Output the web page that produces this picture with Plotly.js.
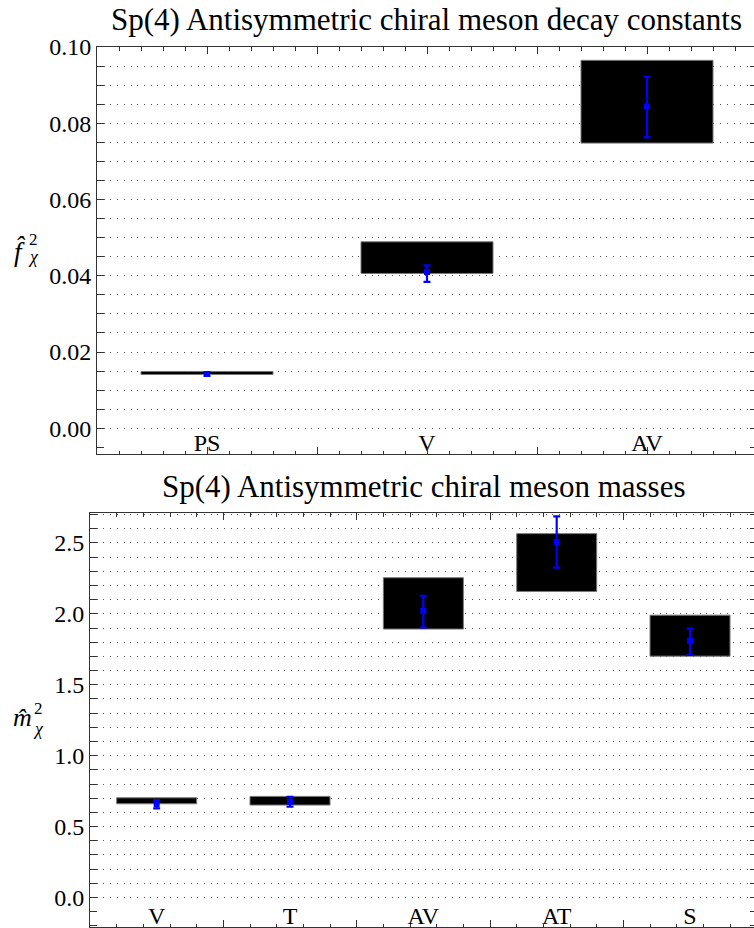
<!DOCTYPE html>
<html>
<head>
<meta charset="utf-8">
<script src="https://cdn.plot.ly/plotly-3.0.1.min.js"></script>
<style>
html,body{margin:0;padding:0;overflow:hidden;background:#fff;}
#chart{width:760px;height:928px;}
</style>
</head>
<body>
<div id="chart"></div>
<script>
// ---- Decay constants (top panel) ----
const fCats = ['PS', 'V', 'AV'];
const fPos = [1, 2, 3];
const fBandLo = [0.0141, 0.0406, 0.0748];
const fBandHi = [0.0149, 0.0489, 0.0965];
const fVal = [0.0142, 0.0410, 0.0844];
const fErrLo = [0.0137, 0.0384, 0.0763];
const fErrHi = [0.0147, 0.0427, 0.0922];

// ---- Masses (bottom panel) ----
const mCats = ['V', 'T', 'AV', 'AT', 'S'];
const mPos = [1, 2, 3, 4, 5];
const mBandLo = [0.661, 0.652, 1.893, 2.158, 1.702];
const mBandHi = [0.703, 0.713, 2.255, 2.566, 1.991];
const mVal = [0.658, 0.675, 2.020, 2.507, 1.808];
const mErrLo = [0.629, 0.640, 1.904, 2.326, 1.711];
const mErrHi = [0.687, 0.710, 2.128, 2.688, 1.897];

const FONT = 'Liberation Serif';
const FRAME = '#333333';
const GRID = '#555555';
const BLUE = '#0000ff';

function bandTrace(pos, lo, hi, xa, ya) {
  return {
    type: 'bar', x: pos, base: lo, y: hi.map((h, i) => h - lo[i]),
    width: 0.6, xaxis: xa, yaxis: ya,
    marker: {color: '#000000', line: {color: '#777777', width: 1}},
    hoverinfo: 'skip', showlegend: false
  };
}
function errTrace(pos, val, lo, hi, xa, ya) {
  return {
    type: 'scatter', mode: 'markers', x: pos, y: val, xaxis: xa, yaxis: ya,
    marker: {symbol: 'square', size: 6, color: BLUE},
    error_y: {type: 'data', symmetric: false,
      array: hi.map((h, i) => h - val[i]),
      arrayminus: val.map((v, i) => v - lo[i]),
      color: BLUE, thickness: 2.2, width: 3.5},
    showlegend: false
  };
}
function emptyTrace(xa, ya) {
  return {type: 'scatter', mode: 'markers', x: [], y: [], xaxis: xa, yaxis: ya,
    showlegend: false, hoverinfo: 'skip'};
}

const data = [
  bandTrace(fPos, fBandLo, fBandHi, 'x', 'y'),
  errTrace(fPos, fVal, fErrLo, fErrHi, 'x', 'y'),
  emptyTrace('x3', 'y'),
  bandTrace(mPos, mBandLo, mBandHi, 'x2', 'y2'),
  errTrace(mPos, mVal, mErrLo, mErrHi, 'x2', 'y2'),
  emptyTrace('x4', 'y2')
];

const W = 760, H = 928;
const tickFont = {family: FONT, size: 24, color: '#000'};

function labelAxis(domain, range, pos, cats, anchor) {
  return {
    domain: domain, range: range, anchor: anchor,
    tickmode: 'array', tickvals: pos, ticktext: cats,
    ticks: '', ticklabelposition: 'inside', tickfont: tickFont,
    showgrid: false, zeroline: false,
    showline: true, linecolor: FRAME, linewidth: 1, mirror: true,
    fixedrange: true
  };
}
function tickAxis(domain, range, tick0, dtick, mdtick, anchor, overlay) {
  return {
    domain: domain, range: range, anchor: anchor, overlaying: overlay,
    tickmode: 'linear', tick0: tick0, dtick: dtick,
    ticks: 'inside', ticklen: 7, tickcolor: FRAME, tickwidth: 1,
    showticklabels: false, showgrid: false, zeroline: false,
    showline: false, mirror: 'allticks',
    minor: {tickmode: 'linear', tick0: tick0, dtick: mdtick, ticks: 'inside', ticklen: 3.5, tickcolor: FRAME, showgrid: false},
    fixedrange: true
  };
}
function valueAxis(domain, range, dtick, mdtick, anchor, fmt, standoff) {
  return {
    domain: domain, range: range, anchor: anchor,
    tickmode: 'linear', tick0: 0, dtick: dtick, tickformat: fmt,
    ticks: 'inside', ticklen: 7, tickcolor: FRAME, tickwidth: 1,
    tickfont: tickFont, ticklabelstandoff: standoff,
    showgrid: true, gridcolor: GRID, gridwidth: 1, griddash: '1px,5.7px',
    zeroline: false, showline: true, linecolor: FRAME, linewidth: 1, mirror: 'allticks',
    minor: {tickmode: 'linear', tick0: 0, dtick: mdtick, ticks: 'inside', ticklen: 3.5, tickcolor: FRAME,
      showgrid: true, gridcolor: GRID, gridwidth: 1, griddash: '1px,5.7px'},
    fixedrange: true
  };
}

const topDom = [0.5373, 1.0];
const botDom = [0.0, 0.4699];
const topX = [97 / 757, 1.0];
const botX = [90 / 757, 756.7 / 757];
const fRange = [0.5, 3.5];
const mRange = [0.5, 5.5];

function px(x) { return x / 757; }
function py(y) { return (926.7 - y) / 879.7; }
function note(text, x, y, size, anchor) {
  return {text: text, xref: 'paper', yref: 'paper', x: px(x), y: py(y),
    xanchor: anchor || 'left', yanchor: 'middle', showarrow: false,
    font: {family: FONT, size: size, color: '#000'}};
}

const layout = {
  width: W, height: H,
  margin: {l: 0, r: 3, t: 47, b: 1.3},
  paper_bgcolor: '#fff', plot_bgcolor: '#fff',
  barmode: 'overlay',
  font: {family: FONT, color: '#000'},
  xaxis: labelAxis(topX, fRange, fPos, fCats, 'y'),
  xaxis3: tickAxis(topX, fRange, 0.5, 0.5, 0.1, 'y', 'x'),
  yaxis: valueAxis(topDom, [-0.0068, 0.1], 0.02, 0.005, 'x', '.2f', 0),
  xaxis2: labelAxis(botX, mRange, mPos, mCats, 'y2'),
  xaxis4: tickAxis(botX, mRange, 0.5, 1, 0.2, 'y2', 'x2'),
  yaxis2: valueAxis(botDom, [-0.208, 2.708], 0.5, 0.1, 'x2', '.1f', 0),
  annotations: [
    note('Sp(4) Antisymmetric chiral meson decay constants', 426.5, 20, 31, 'center'),
    note('Sp(4) Antisymmetric chiral meson masses', 423, 486, 31, 'center'),
    note('<i>f\u0302</i>', 12, 251, 27),
    note('<i>\u03c7</i>', 26, 257, 18),
    note('2', 27, 239, 17),
    note('<i>m\u0302</i>', 11, 717, 26),
    note('<i>\u03c7</i>', 31, 729, 18),
    note('2', 32, 708, 17)
  ]
};

Plotly.newPlot('chart', data, layout, {displayModeBar: false, staticPlot: true});
</script>
</body>
</html>
